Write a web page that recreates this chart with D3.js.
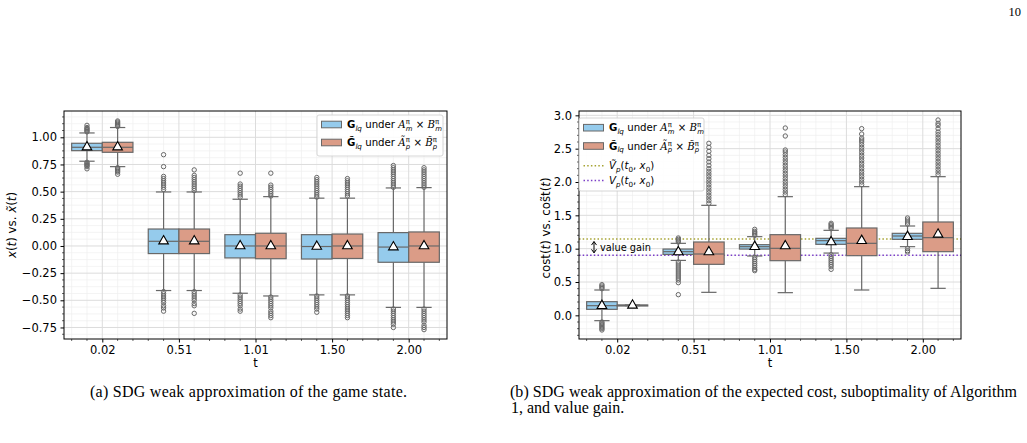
<!DOCTYPE html>
<html>
<head>
<meta charset="utf-8">
<script src="https://cdn.jsdelivr.net/npm/d3@7"></script>
<style>
  body { margin: 0; background: #fff; }
  svg { display: block; }
</style>
</head>
<body>
<div id="my_dataviz"></div>
<script>
// time categories on the x axis
const tLabels = ["0.02", "0.51", "1.01", "1.50", "2.00"];

// (a) state x(t) : G_lq under A x B (blue)
const stateG_q1 = [0.877, -0.07, -0.11, -0.12, -0.15];
const stateG_med = [0.908, 0.043, 0.0, -0.005, -0.01];
const stateG_q3 = [0.945, 0.156, 0.104, 0.104, 0.123];
const stateG_lo = [0.78, -0.41, -0.435, -0.45, -0.565];
const stateG_hi = [1.04, 0.497, 0.43, 0.44, 0.534];
const stateG_mean = [0.91, 0.045, 0.0, -0.005, -0.01];
const stateG_out = [
  [1.05, 1.06, 1.07, 1.08, 1.09, 1.11, 0.77, 0.76, 0.75, 0.74, 0.73, 0.71],
  [0.84, 0.73, 0.64, 0.62, 0.60, 0.58, 0.56, 0.54, 0.52, -0.42, -0.44, -0.46, -0.48, -0.50, -0.52, -0.55, -0.57, -0.60],
  [0.67, 0.57, 0.55, 0.53, 0.51, 0.49, 0.47, 0.45, -0.45, -0.47, -0.49, -0.51, -0.53, -0.55, -0.58, -0.60],
  [0.63, 0.61, 0.59, 0.57, 0.55, 0.53, 0.51, 0.49, 0.47, 0.45, -0.46, -0.48, -0.50, -0.52, -0.54, -0.56, -0.58, -0.61],
  [0.74, 0.72, 0.70, 0.68, 0.66, 0.64, 0.62, 0.60, 0.58, 0.56, 0.54, -0.58, -0.60, -0.62, -0.64, -0.66, -0.68, -0.70, -0.72, -0.75]
];

// (a) state x~(t) : G~_lq under A~ x B~ (red)
const stateGt_q1 = [0.862, -0.07, -0.117, -0.115, -0.15];
const stateGt_med = [0.908, 0.043, 0.0, 0.0, 0.0];
const stateGt_q3 = [0.954, 0.156, 0.117, 0.11, 0.129];
const stateGt_lo = [0.73, -0.41, -0.46, -0.45, -0.565];
const stateGt_hi = [1.09, 0.497, 0.454, 0.44, 0.537];
const stateGt_mean = [0.91, 0.045, 0.0, 0.0, 0.0];
const stateGt_out = [
  [1.10, 1.11, 1.12, 1.13, 1.14, 1.15, 0.72, 0.71, 0.70, 0.69, 0.68, 0.66],
  [0.70, 0.65, 0.63, 0.61, 0.59, 0.57, 0.55, 0.53, 0.51, -0.42, -0.44, -0.46, -0.48, -0.50, -0.53, -0.55, -0.62],
  [0.67, 0.56, 0.54, 0.52, 0.50, 0.48, 0.46, -0.47, -0.49, -0.51, -0.53, -0.55, -0.57, -0.60, -0.62, -0.64, -0.66],
  [0.62, 0.60, 0.58, 0.56, 0.54, 0.52, 0.50, 0.48, 0.46, -0.46, -0.48, -0.50, -0.52, -0.54, -0.56, -0.58, -0.60, -0.62, -0.64, -0.66],
  [0.72, 0.70, 0.68, 0.66, 0.64, 0.62, 0.60, 0.58, 0.56, 0.54, -0.58, -0.60, -0.62, -0.64, -0.66, -0.68, -0.70, -0.73, -0.75, -0.77]
];

// (b) cost : blue
const costG_q1 = [0.09, 0.914, 0.994, 1.065, 1.14];
const costG_med = [0.145, 0.955, 1.03, 1.12, 1.19];
const costG_q3 = [0.205, 0.994, 1.06, 1.155, 1.23];
const costG_lo = [-0.08, 0.824, 0.89, 0.934, 1.03];
const costG_hi = [0.38, 1.08, 1.18, 1.275, 1.34];
const costG_mean = [0.145, 0.95, 1.03, 1.10, 1.18];
const costG_out = [
  [0.40, 0.42, 0.44, 0.46, -0.10, -0.12, -0.14, -0.16, -0.18, -0.20, -0.22],
  [1.10, 1.12, 1.14, 1.16, 0.80, 0.77, 0.74, 0.71, 0.68, 0.65, 0.62, 0.59, 0.56, 0.53, 0.49, 0.31],
  [1.20, 1.22, 1.24, 1.26, 1.29, 0.87, 0.84, 0.81, 0.78, 0.75, 0.72, 0.69, 0.67],
  [1.30, 1.32, 1.34, 1.36, 1.38, 0.91, 0.88, 0.85, 0.82, 0.79, 0.76, 0.73, 0.69],
  [1.37, 1.40, 1.43, 1.46, 1.00, 0.97, 0.95]
];

// (b) cost~ : red
const costGt_q1 = [0.145, 0.765, 0.82, 0.895, 0.955];
const costGt_med = [0.15, 0.92, 1.005, 1.08, 1.165];
const costGt_q3 = [0.155, 1.10, 1.21, 1.31, 1.40];
const costGt_lo = [0.145, 0.345, 0.34, 0.38, 0.405];
const costGt_hi = [0.155, 1.65, 1.78, 1.93, 2.08];
const costGt_mean = [0.15, 0.95, 1.04, 1.12, 1.215];
const costGt_out = [
  [],
  [1.68, 1.72, 1.76, 1.80, 1.84, 1.88, 1.92, 1.96, 2.00, 2.04, 2.08, 2.12, 2.16, 2.20, 2.25, 2.30, 2.35, 2.40, 2.46, 2.52, 2.58],
  [1.81, 1.85, 1.89, 1.93, 1.97, 2.01, 2.05, 2.09, 2.13, 2.17, 2.21, 2.25, 2.29, 2.33, 2.37, 2.41, 2.45, 2.48, 2.69, 2.81],
  [1.96, 2.00, 2.04, 2.08, 2.12, 2.16, 2.20, 2.24, 2.28, 2.32, 2.36, 2.40, 2.44, 2.48, 2.52, 2.56, 2.60, 2.63, 2.66, 2.72, 2.80],
  [2.11, 2.15, 2.19, 2.23, 2.27, 2.31, 2.35, 2.39, 2.43, 2.47, 2.51, 2.55, 2.59, 2.63, 2.67, 2.71, 2.75, 2.80, 2.85, 2.88, 2.93]
];

// reference values V~_p(t0,x0) and V_p(t0,x0)
const vTilde = 1.144;
const vP = 0.90;

// y ticks
const stateTicks = [-0.75, -0.5, -0.25, 0, 0.25, 0.5, 0.75, 1.0];
const costTicks = [0, 0.5, 1.0, 1.5, 2.0, 2.5, 3.0];

const blue = "#95cbec", red = "#db9c87", edge = "#686868";
const font = "DejaVu Sans";

const svg = d3.select("#my_dataviz")
  .append("svg")
  .attr("width", 1027)
  .attr("height", 443)
  .style("font-family", font);

function makeBox(q1, med, q3, lo, hi, mean, out) {
  return q1.map((d, i) => ({ q1: d, med: med[i], q3: q3[i], lo: lo[i], hi: hi[i], mean: mean[i], out: out[i] }));
}

function drawPanel(p) {
  const g = svg.append("g").attr("transform", `translate(${p.left}, ${p.top})`);
  const x = d3.scalePoint().domain(tLabels).range([0, p.width]).padding(0.5);
  const step = x.step();
  const xLin = d3.scaleLinear().domain([-0.5, tLabels.length - 0.5]).range([0, p.width]);
  const y = d3.scaleLinear().domain(p.yDomain).range([p.height, 0]);

  // minor grid
  const xMinor = d3.range(-0.4, tLabels.length - 0.5, 0.2).filter(v => Math.abs(v - Math.round(v)) > 0.01);
  const yMinor = d3.range(Math.ceil(p.yDomain[0] / p.yMinor) * p.yMinor, p.yDomain[1], p.yMinor)
    .filter(v => !p.yTicks.some(t => Math.abs(t - v) < 1e-6));
  g.selectAll(".xminor").data(xMinor).join("line")
    .attr("x1", d => xLin(d)).attr("x2", d => xLin(d))
    .attr("y1", 0).attr("y2", p.height)
    .attr("stroke", "#efefef").attr("stroke-width", 0.7);
  g.selectAll(".yminor").data(yMinor).join("line")
    .attr("x1", 0).attr("x2", p.width)
    .attr("y1", d => y(d)).attr("y2", d => y(d))
    .attr("stroke", "#efefef").attr("stroke-width", 0.7);
  // major grid
  g.selectAll(".xmajor").data(tLabels).join("line")
    .attr("x1", d => x(d)).attr("x2", d => x(d))
    .attr("y1", 0).attr("y2", p.height)
    .attr("stroke", "#dcdcdc").attr("stroke-width", 1);
  g.selectAll(".ymajor").data(p.yTicks).join("line")
    .attr("x1", 0).attr("x2", p.width)
    .attr("y1", d => y(d)).attr("y2", d => y(d))
    .attr("stroke", "#dcdcdc").attr("stroke-width", 1);

  // horizontal reference lines
  if (p.refLines) {
    p.refLines.forEach(r => {
      g.append("line")
        .attr("x1", 0).attr("x2", p.width)
        .attr("y1", y(r.value)).attr("y2", y(r.value))
        .attr("stroke", r.color).attr("stroke-width", 1.5)
        .attr("stroke-dasharray", "1.5,2.2");
    });
  }

  // boxes
  p.series.forEach((s, h) => {
    const off = (h === 0 ? -0.2 : 0.2) * step;
    const bw = 0.4 * step;
    const bg = g.selectAll(".box" + h).data(s.boxes).join("g")
      .attr("transform", (d, i) => `translate(${x(tLabels[i]) + off}, 0)`);
    // whiskers
    bg.append("line").attr("x1", 0).attr("x2", 0)
      .attr("y1", d => y(d.q3)).attr("y2", d => y(d.hi))
      .attr("stroke", edge).attr("stroke-width", 1.2);
    bg.append("line").attr("x1", 0).attr("x2", 0)
      .attr("y1", d => y(d.q1)).attr("y2", d => y(d.lo))
      .attr("stroke", edge).attr("stroke-width", 1.2);
    bg.append("line").attr("x1", -bw / 4).attr("x2", bw / 4)
      .attr("y1", d => y(d.hi)).attr("y2", d => y(d.hi))
      .attr("stroke", edge).attr("stroke-width", 1.2);
    bg.append("line").attr("x1", -bw / 4).attr("x2", bw / 4)
      .attr("y1", d => y(d.lo)).attr("y2", d => y(d.lo))
      .attr("stroke", edge).attr("stroke-width", 1.2);
    // box
    bg.append("rect")
      .attr("x", -bw / 2).attr("width", bw)
      .attr("y", d => y(d.q3))
      .attr("height", d => Math.max(1, y(d.q1) - y(d.q3)))
      .attr("fill", s.color).attr("stroke", edge).attr("stroke-width", 1.2);
    bg.append("line").attr("x1", -bw / 2).attr("x2", bw / 2)
      .attr("y1", d => y(d.med)).attr("y2", d => y(d.med))
      .attr("stroke", edge).attr("stroke-width", 1.2);
    // outliers
    bg.selectAll("circle").data(d => d.out).join("circle")
      .attr("cx", 0).attr("cy", d => y(d)).attr("r", 2.2)
      .attr("fill", "none").attr("stroke", edge).attr("stroke-width", 1);
    // mean
    bg.append("path")
      .attr("d", d3.symbol(d3.symbolTriangle, 40))
      .attr("transform", d => `translate(0, ${y(d.mean)})`)
      .attr("fill", "#fff").attr("stroke", "#000").attr("stroke-width", 1.1);
  });

  // spines
  g.append("rect").attr("width", p.width).attr("height", p.height)
    .attr("fill", "none").attr("stroke", "#000").attr("stroke-width", 1);

  // axes
  const xAxis = g.append("g").attr("transform", `translate(0, ${p.height})`)
    .call(d3.axisBottom(x).tickSize(3.5).tickPadding(3.5).tickSizeOuter(0));
  const yAxis = g.append("g")
    .call(d3.axisLeft(y).tickValues(p.yTicks).tickFormat(d3.format(p.yFormat)).tickSize(3.5).tickPadding(3.5).tickSizeOuter(0));
  [xAxis, yAxis].forEach(a => {
    a.select(".domain").remove();
    a.selectAll("text").attr("font-family", font).attr("font-size", 11.5).attr("fill", "#000");
    a.selectAll("line").attr("stroke", "#000");
  });
  // minor ticks
  g.selectAll(".xmt").data(xMinor).join("line")
    .attr("x1", d => xLin(d)).attr("x2", d => xLin(d))
    .attr("y1", p.height).attr("y2", p.height + 2)
    .attr("stroke", "#000").attr("stroke-width", 0.6);
  g.selectAll(".ymt").data(yMinor).join("line")
    .attr("x1", -2).attr("x2", 0)
    .attr("y1", d => y(d)).attr("y2", d => y(d))
    .attr("stroke", "#000").attr("stroke-width", 0.6);

  // x label
  g.append("text").attr("x", p.width / 2).attr("y", p.height + 28)
    .attr("text-anchor", "middle").attr("font-size", 11.5).text("t");

  return { x, y, g };
}

// panel (a)
const A = drawPanel({
  left: 64, top: 111, width: 383, height: 228,
  yDomain: [-0.856, 1.242], yTicks: stateTicks, yFormat: ".2f", yMinor: 0.0625,
  series: [
    { color: blue, boxes: makeBox(stateG_q1, stateG_med, stateG_q3, stateG_lo, stateG_hi, stateG_mean, stateG_out) },
    { color: red, boxes: makeBox(stateGt_q1, stateGt_med, stateGt_q3, stateGt_lo, stateGt_hi, stateGt_mean, stateGt_out) }
  ]
});

// panel (b)
const olive = "#a6a332", purple = "#7b3ec8";
const B = drawPanel({
  left: 579, top: 111, width: 382, height: 228,
  yDomain: [-0.355, 3.065], yTicks: costTicks, yFormat: ".1f", yMinor: 0.1,
  refLines: [{ value: vTilde, color: olive }, { value: vP, color: purple }],
  series: [
    { color: blue, boxes: makeBox(costG_q1, costG_med, costG_q3, costG_lo, costG_hi, costG_mean, costG_out) },
    { color: red, boxes: makeBox(costGt_q1, costGt_med, costGt_q3, costGt_lo, costGt_hi, costGt_mean, costGt_out) }
  ]
});

// value gain annotation
const ax = 15;
const ya = B.y(vTilde) + 2.5, yb = B.y(vP) - 2.5;
B.g.append("line").attr("x1", ax).attr("x2", ax).attr("y1", ya).attr("y2", yb)
  .attr("stroke", "#000").attr("stroke-width", 1);
B.g.append("path").attr("d", `M${ax - 2.5},${ya + 3.5}L${ax},${ya}L${ax + 2.5},${ya + 3.5}`)
  .attr("fill", "none").attr("stroke", "#000").attr("stroke-width", 1);
B.g.append("path").attr("d", `M${ax - 2.5},${yb - 3.5}L${ax},${yb}L${ax + 2.5},${yb - 3.5}`)
  .attr("fill", "none").attr("stroke", "#000").attr("stroke-width", 1);
B.g.append("text").attr("x", ax + 6).attr("y", (ya + yb) / 2)
  .attr("dy", "0.35em").attr("font-size", 9.8).text("value gain");

// y labels
function mathLabel(sel, parts) {
  parts.forEach(pt => {
    const t = sel.append("tspan").text(pt.t);
    if (pt.i) t.attr("font-style", "italic");
  });
}
const yl1 = svg.append("text").attr("transform", "translate(16, 225) rotate(-90)")
  .attr("text-anchor", "middle").attr("font-size", 11.8);
mathLabel(yl1, [{ t: "x", i: 1 }, { t: "(" }, { t: "t", i: 1 }, { t: ")" }, { t: " vs. " },
  { t: "x̃", i: 1 }, { t: "(" }, { t: "t", i: 1 }, { t: ")" }]);
const yl2 = svg.append("text").attr("transform", "translate(550, 228) rotate(-90)")
  .attr("text-anchor", "middle").attr("font-size", 11.8);
mathLabel(yl2, [{ t: "cost(" }, { t: "t", i: 1 }, { t: ")" }, { t: " vs. " },
  { t: "cos̃t(" }, { t: "t", i: 1 }, { t: ")" }]);

// legends
function legendText(sel, tilde) {
  sel.append("tspan").attr("font-weight", "bold").text(tilde ? "G̃" : "G");
  sel.append("tspan").attr("font-style", "italic").attr("font-size", 7.2).attr("dy", 2.6).text("lq");
  sel.append("tspan").attr("dy", -2.6).text(" under ");
  sel.append("tspan").attr("font-family", "DejaVu Serif").attr("font-style", "italic").text(tilde ? "Ã" : "A");
  sel.append("tspan").attr("font-size", 6.9).attr("dy", -4).text("π");
  sel.append("tspan").attr("font-size", 6.9).attr("font-style", "italic").attr("dx", -4).attr("dy", 6.6).text(tilde ? "p" : "m");
  sel.append("tspan").attr("dy", -2.6).text(" × ");
  sel.append("tspan").attr("font-family", "DejaVu Serif").attr("font-style", "italic").text(tilde ? "B̃" : "B");
  sel.append("tspan").attr("font-size", 6.9).attr("dy", -4).text("π");
  sel.append("tspan").attr("font-size", 6.9).attr("font-style", "italic").attr("dx", -4).attr("dy", 6.6).text(tilde ? "p" : "m");
}
function vText(sel, tilde) {
  sel.append("tspan").attr("font-style", "italic").text(tilde ? "Ṽ" : "V");
  sel.append("tspan").attr("font-style", "italic").attr("font-size", 7.2).attr("dy", 2.6).text("p");
  sel.append("tspan").attr("dy", -2.6).text("(");
  sel.append("tspan").attr("font-style", "italic").text("t");
  sel.append("tspan").attr("font-size", 7.2).attr("dy", 2.6).text("0");
  sel.append("tspan").attr("dy", -2.6).text(", ");
  sel.append("tspan").attr("font-style", "italic").text("x");
  sel.append("tspan").attr("font-size", 7.2).attr("dy", 2.6).text("0");
  sel.append("tspan").attr("dy", -2.6).text(")");
}

function drawLegend(x0, y0, w, h, items) {
  const lg = svg.append("g").attr("transform", `translate(${x0}, ${y0})`);
  lg.append("rect").attr("width", w).attr("height", h).attr("rx", 2)
    .attr("fill", "#fff").attr("fill-opacity", 0.85).attr("stroke", "#cccccc").attr("stroke-width", 0.8);
  items.forEach(it => {
    if (it.patch) {
      lg.append("rect").attr("x", 4.5).attr("y", it.y - 3.3).attr("width", 20).attr("height", 6.6)
        .attr("fill", it.patch).attr("stroke", edge).attr("stroke-width", 1);
    } else {
      lg.append("line").attr("x1", 4.5).attr("x2", 24.5).attr("y1", it.y).attr("y2", it.y)
        .attr("stroke", it.line).attr("stroke-width", 1.5).attr("stroke-dasharray", "1.5,2.2");
    }
    const t = lg.append("text").attr("x", 30).attr("y", it.y).attr("dy", "0.35em").attr("font-size", 10.2);
    it.label(t);
  });
}
drawLegend(317, 115, 126, 41, [
  { y: 9.5, patch: blue, label: t => legendText(t, false) },
  { y: 27.5, patch: red, label: t => legendText(t, true) }
]);
drawLegend(579, 118, 125, 73, [
  { y: 9.7, patch: blue, label: t => legendText(t, false) },
  { y: 28, patch: red, label: t => legendText(t, true) },
  { y: 47.7, line: olive, label: t => vText(t, true) },
  { y: 62.5, line: purple, label: t => vText(t, false) }
]);

// captions and page number
const serif = "Liberation Serif";
svg.append("text").attr("x", 1021).attr("y", 16).attr("text-anchor", "end")
  .attr("font-family", serif).attr("font-size", 12.5).text("10");
svg.append("text").attr("x", 90).attr("y", 397).attr("font-family", serif).attr("font-size", 16)
  .attr("textLength", 317).attr("lengthAdjust", "spacing")
  .text("(a) SDG weak approximation of the game state.");
svg.append("text").attr("x", 510).attr("y", 397).attr("font-family", serif).attr("font-size", 16)
  .attr("textLength", 507).attr("lengthAdjust", "spacing")
  .text("(b) SDG weak approximation of the expected cost, suboptimality of Algorithm");
svg.append("text").attr("x", 511).attr("y", 413).attr("font-family", serif).attr("font-size", 16)
  .text("1, and value gain.");
</script>
</body>
</html>
